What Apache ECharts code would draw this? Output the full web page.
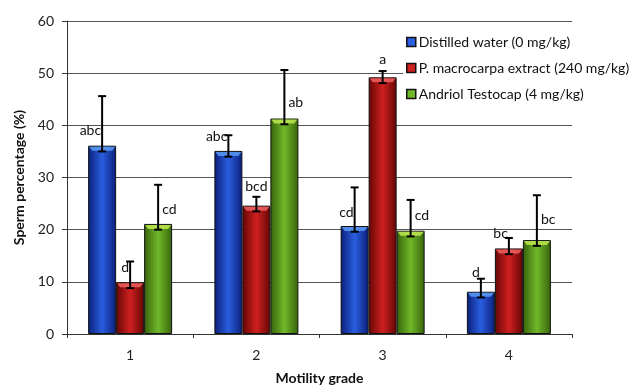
<!DOCTYPE html>
<html>
<head>
<meta charset="utf-8">
<script src="https://cdn.jsdelivr.net/npm/echarts@6/dist/echarts.min.js"></script>
<style>html,body{margin:0;padding:0;background:#fff}#c{width:635px;height:385px}</style>
</head>
<body>
<div id="c"></div>
<script>
var categories = ['1', '2', '3', '4'];
var seriesNames = ['Distilled water (0 mg/kg)', 'P. macrocarpa extract (240 mg/kg)', 'Andriol Testocap (4 mg/kg)'];
var distilled = [36.1, 35.1, 20.7, 8.1];
var extract = [9.9, 24.6, 49.2, 16.4];
var andriol = [21.1, 41.3, 19.8, 18.0];
var distilledErr = [9.5, 3.0, 7.4, 2.5];
var extractErr = [4.0, 1.7, 1.2, 2.0];
var andriolErr = [7.5, 9.3, 5.9, 8.6];
var distilledLetters = ['abc', 'abc', 'cd', 'd'];
var extractLetters = ['d', 'bcd', 'a', 'bc'];
var andriolLetters = ['cd', 'ab', 'cd', 'bc'];
// letter anchor: [value on y axis, side relative to error bar]
var distilledLetterAt = [[39.1, 'left'], [37.8, 'left'], [23.2, 'left'], [11.8, 'left']];
var extractLetterAt = [[12.8, 'left'], [28.3, 'top'], [52.7, 'top'], [19.3, 'left']];
var andriolLetterAt = [[23.9, 'right'], [44.3, 'right'], [22.8, 'right'], [22.0, 'right']];
var yTicks = [0, 10, 20, 30, 40, 50, 60];

var values = [distilled, extract, andriol];
var errs = [distilledErr, extractErr, andriolErr];
var letters = [distilledLetters, extractLetters, andriolLetters];
var letterAt = [distilledLetterAt, extractLetterAt, andriolLetterAt];

var colors = [
  ['#0a1f78', '#2a5ee0', '#0a1f78', '#5a9af5'],
  ['#640606', '#d02020', '#640606', '#f06060'],
  ['#36640a', '#70b82a', '#36640a', '#c0e850']
];
var BAR_W = 28;

function grad(c) {
  return new echarts.graphic.LinearGradient(0, 0, 1, 0, [
    {offset: 0, color: c[0]}, {offset: 0.5, color: c[1]}, {offset: 1, color: c[2]}
  ]);
}

var barSeries = values.map(function (v, i) {
  return {
    name: seriesNames[i],
    type: 'bar',
    data: v,
    barWidth: BAR_W,
    barGap: '0%',
    itemStyle: {color: grad(colors[i]), borderColor: '#111', borderWidth: 1},
    z: 2
  };
});

var errData = [];
for (var s = 0; s < 3; s++) {
  for (var k = 0; k < categories.length; k++) {
    errData.push([k, values[s][k], errs[s][k], s, letters[s][k], letterAt[s][k][0], letterAt[s][k][1]]);
  }
}

var errSeries = {
  type: 'custom',
  name: 'err',
  data: errData,
  z: 5,
  silent: true,
  renderItem: function (params, api) {
    var cat = api.value(0), val = api.value(1), e = api.value(2), s = api.value(3);
    var letter = errData[params.dataIndex][4];
    var ly = errData[params.dataIndex][5];
    var side = errData[params.dataIndex][6];
    var off = (s - 1) * BAR_W;
    var pTop = api.coord([cat, val + e]);
    var pBar = api.coord([cat, val]);
    var pLow = api.coord([cat, val - 1.1]);
    var pLab = api.coord([cat, ly]);
    var x = pTop[0] + off;
    var cap = 4;
    var st = {stroke: '#000', lineWidth: 2};
    var c = colors[s];
    var children = [
      {type: 'polygon', shape: {points: [[x - BAR_W / 2 + 1, pBar[1] + 1], [x + BAR_W / 2 - 1, pBar[1] + 1], [x + BAR_W / 2 - 4, pBar[1] + 5], [x - BAR_W / 2 + 4, pBar[1] + 5]]},
        style: {fill: c[3], opacity: 0.85}},
      {type: 'line', shape: {x1: x, y1: pTop[1], x2: x, y2: pLow[1]}, style: st},
      {type: 'line', shape: {x1: x - cap, y1: pTop[1], x2: x + cap, y2: pTop[1]}, style: st},
      {type: 'line', shape: {x1: x - cap, y1: pLow[1], x2: x + cap, y2: pLow[1]}, style: st}
    ];
    var tx = x, align = 'center';
    if (side === 'left') { tx = x - 1; align = 'right'; }
    else if (side === 'right') { tx = x + 4; align = 'left'; }
    children.push({
      type: 'text',
      style: {x: tx, y: pLab[1], text: letter, align: align, verticalAlign: 'middle',
        font: '14px Lato, "Open Sans", sans-serif', fill: '#111'}
    });
    return {type: 'group', children: children};
  }
};

var chart = echarts.init(document.getElementById('c'), null, {renderer: 'canvas'});
chart.setOption({
  animation: false,
  backgroundColor: '#fff',
  textStyle: {fontFamily: 'Lato, "Open Sans", sans-serif'},
  grid: {left: 67, right: 63, top: 21, bottom: 51, outerBoundsMode: 'none', containLabel: false},
  legend: {
    orient: 'vertical',
    left: 403,
    top: 32,
    padding: [3, 4, 3, 3],
    backgroundColor: '#fff',
    itemWidth: 9,
    itemHeight: 9,
    itemGap: 12,
    textStyle: {fontSize: 14, color: '#111', fontFamily: 'Lato, "Open Sans", sans-serif', padding: [0, 0, 0, -2]},
    data: seriesNames.map(function (n, i) {
      return {name: n, icon: 'rect', itemStyle: {color: colors[i][1], borderColor: '#111', borderWidth: 1.5}};
    })
  },
  xAxis: {
    type: 'category',
    data: categories,
    name: 'Motility grade',
    nameLocation: 'middle',
    nameGap: 37,
    nameTextStyle: {fontSize: 14, fontWeight: 'bold', color: '#111'},
    axisLine: {lineStyle: {color: '#333', width: 1}},
    axisTick: {show: true, length: 4, lineStyle: {color: '#333'}},
    axisLabel: {fontSize: 14, color: '#222', margin: 14}
  },
  yAxis: {
    type: 'value',
    min: yTicks[0],
    max: yTicks[yTicks.length - 1],
    interval: 10,
    name: 'Sperm percentage (%)',
    nameLocation: 'middle',
    nameGap: 41,
    nameTextStyle: {fontSize: 14, fontWeight: 'bold', color: '#111'},
    axisLine: {show: true, lineStyle: {color: '#333', width: 1}},
    axisTick: {show: true, length: 5, lineStyle: {color: '#333'}},
    axisLabel: {fontSize: 14, color: '#222', margin: 13},
    splitLine: {lineStyle: {color: '#555', width: 1}}
  },
  series: barSeries.concat([errSeries])
});
</script>
</body>
</html>
